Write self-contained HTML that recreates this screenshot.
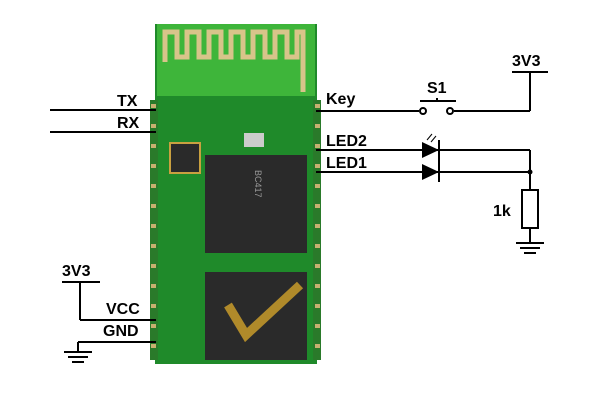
<!DOCTYPE html>
<html><head><style>body{margin:0;background:#fff}svg{display:block}</style></head><body>
<svg width="600" height="400" xmlns="http://www.w3.org/2000/svg" font-family="Liberation Sans, sans-serif">
<rect width="600" height="400" fill="#fff"/>
<!-- module -->
<rect x="155" y="24" width="162" height="340" fill="#1f8a2a"/>
<rect x="157" y="24" width="158" height="72" fill="#3eb53a"/>
<path d="M165 62 V32 H177 V57 H187 V32 H199 V57 H209 V32 H221 V57 H231 V32 H243 V57 H253 V32 H265 V57 H275 V32 H287 V57 H297 V32 H303 V92" fill="none" stroke="#d8c48a" stroke-width="5"/>
<rect x="150" y="100" width="8" height="260" fill="#2a7a2a"/>
<rect x="313" y="100" width="8" height="260" fill="#2a7a2a"/>
<g fill="#c8b070">
<rect x="151" y="104" width="5" height="4"/><rect x="151" y="124" width="5" height="4"/><rect x="151" y="144" width="5" height="4"/><rect x="151" y="164" width="5" height="4"/><rect x="151" y="184" width="5" height="4"/><rect x="151" y="204" width="5" height="4"/><rect x="151" y="224" width="5" height="4"/><rect x="151" y="244" width="5" height="4"/><rect x="151" y="264" width="5" height="4"/><rect x="151" y="284" width="5" height="4"/><rect x="151" y="304" width="5" height="4"/><rect x="151" y="324" width="5" height="4"/><rect x="151" y="344" width="5" height="4"/>
<rect x="315" y="104" width="5" height="4"/><rect x="315" y="124" width="5" height="4"/><rect x="315" y="144" width="5" height="4"/><rect x="315" y="164" width="5" height="4"/><rect x="315" y="184" width="5" height="4"/><rect x="315" y="204" width="5" height="4"/><rect x="315" y="224" width="5" height="4"/><rect x="315" y="244" width="5" height="4"/><rect x="315" y="264" width="5" height="4"/><rect x="315" y="284" width="5" height="4"/><rect x="315" y="304" width="5" height="4"/><rect x="315" y="324" width="5" height="4"/><rect x="315" y="344" width="5" height="4"/>
</g>
<rect x="205" y="155" width="102" height="98" fill="#2a2a2a"/>
<rect x="205" y="272" width="102" height="88" fill="#2a2a2a"/>
<path d="M228 305 L246 335 L300 285" fill="none" stroke="#b08a2a" stroke-width="9"/>
<rect x="170" y="143" width="30" height="30" fill="#2a2a2a" stroke="#c9a040" stroke-width="2"/>
<rect x="244" y="133" width="20" height="14" fill="#ccc"/>
<text x="255" y="170" font-size="9" fill="#999" transform="rotate(90 255 170)">BC417</text>
<!-- left schematic -->
<g stroke="#000" stroke-width="2" fill="none">
<line x1="50" y1="110" x2="156" y2="110"/>
<line x1="50" y1="132" x2="156" y2="132"/>
<line x1="62" y1="282" x2="100" y2="282"/>
<line x1="80" y1="282" x2="80" y2="320"/>
<line x1="80" y1="320" x2="156" y2="320"/>
<line x1="78" y1="342" x2="156" y2="342"/>
<line x1="78" y1="342" x2="78" y2="352"/>
<line x1="64" y1="352" x2="92" y2="352"/>
<line x1="68" y1="357" x2="88" y2="357"/>
<line x1="72" y1="362" x2="84" y2="362"/>
</g>
<g font-size="16" font-weight="bold" fill="#000">
<text x="117" y="106">TX</text><text x="117" y="128">RX</text>
<text x="62" y="276">3V3</text><text x="106" y="314">VCC</text><text x="103" y="336">GND</text>
</g>
<!-- right schematic -->
<g stroke="#000" stroke-width="2" fill="none">
<line x1="316" y1="111" x2="419" y2="111"/>
<circle cx="423" cy="111" r="3"/><circle cx="450" cy="111" r="3"/>
<line x1="420" y1="101" x2="456" y2="101"/><line x1="437" y1="101" x2="437" y2="98"/>
<line x1="454" y1="111" x2="530" y2="111"/>
<line x1="530" y1="72" x2="530" y2="111"/>
<line x1="512" y1="72" x2="548" y2="72"/>
<line x1="316" y1="150" x2="530" y2="150"/>
<line x1="316" y1="172" x2="530" y2="172"/>
<line x1="439" y1="140" x2="439" y2="162"/>
<line x1="439" y1="162" x2="439" y2="182"/>
<line x1="530" y1="150" x2="530" y2="190"/>
<rect x="522" y="190" width="16" height="38"/>
<line x1="530" y1="228" x2="530" y2="243"/>
<line x1="516" y1="243" x2="544" y2="243"/>
<line x1="520" y1="248" x2="540" y2="248"/>
<line x1="524" y1="253" x2="536" y2="253"/>
<line x1="427" y1="140" x2="432" y2="134" stroke-width="1"/><line x1="431" y1="142" x2="436" y2="136" stroke-width="1"/>
</g>
<polygon points="422,142 439,150 422,158" fill="#000"/>
<polygon points="422,164 439,172 422,180" fill="#000"/>
<circle cx="530" cy="172" r="2.5" fill="#000"/>
<g font-size="16" font-weight="bold" fill="#000">
<text x="326" y="104">Key</text><text x="427" y="93">S1</text><text x="512" y="66">3V3</text>
<text x="326" y="146">LED2</text><text x="326" y="168">LED1</text><text x="493" y="216">1k</text>
</g>
</svg>
</body></html>
